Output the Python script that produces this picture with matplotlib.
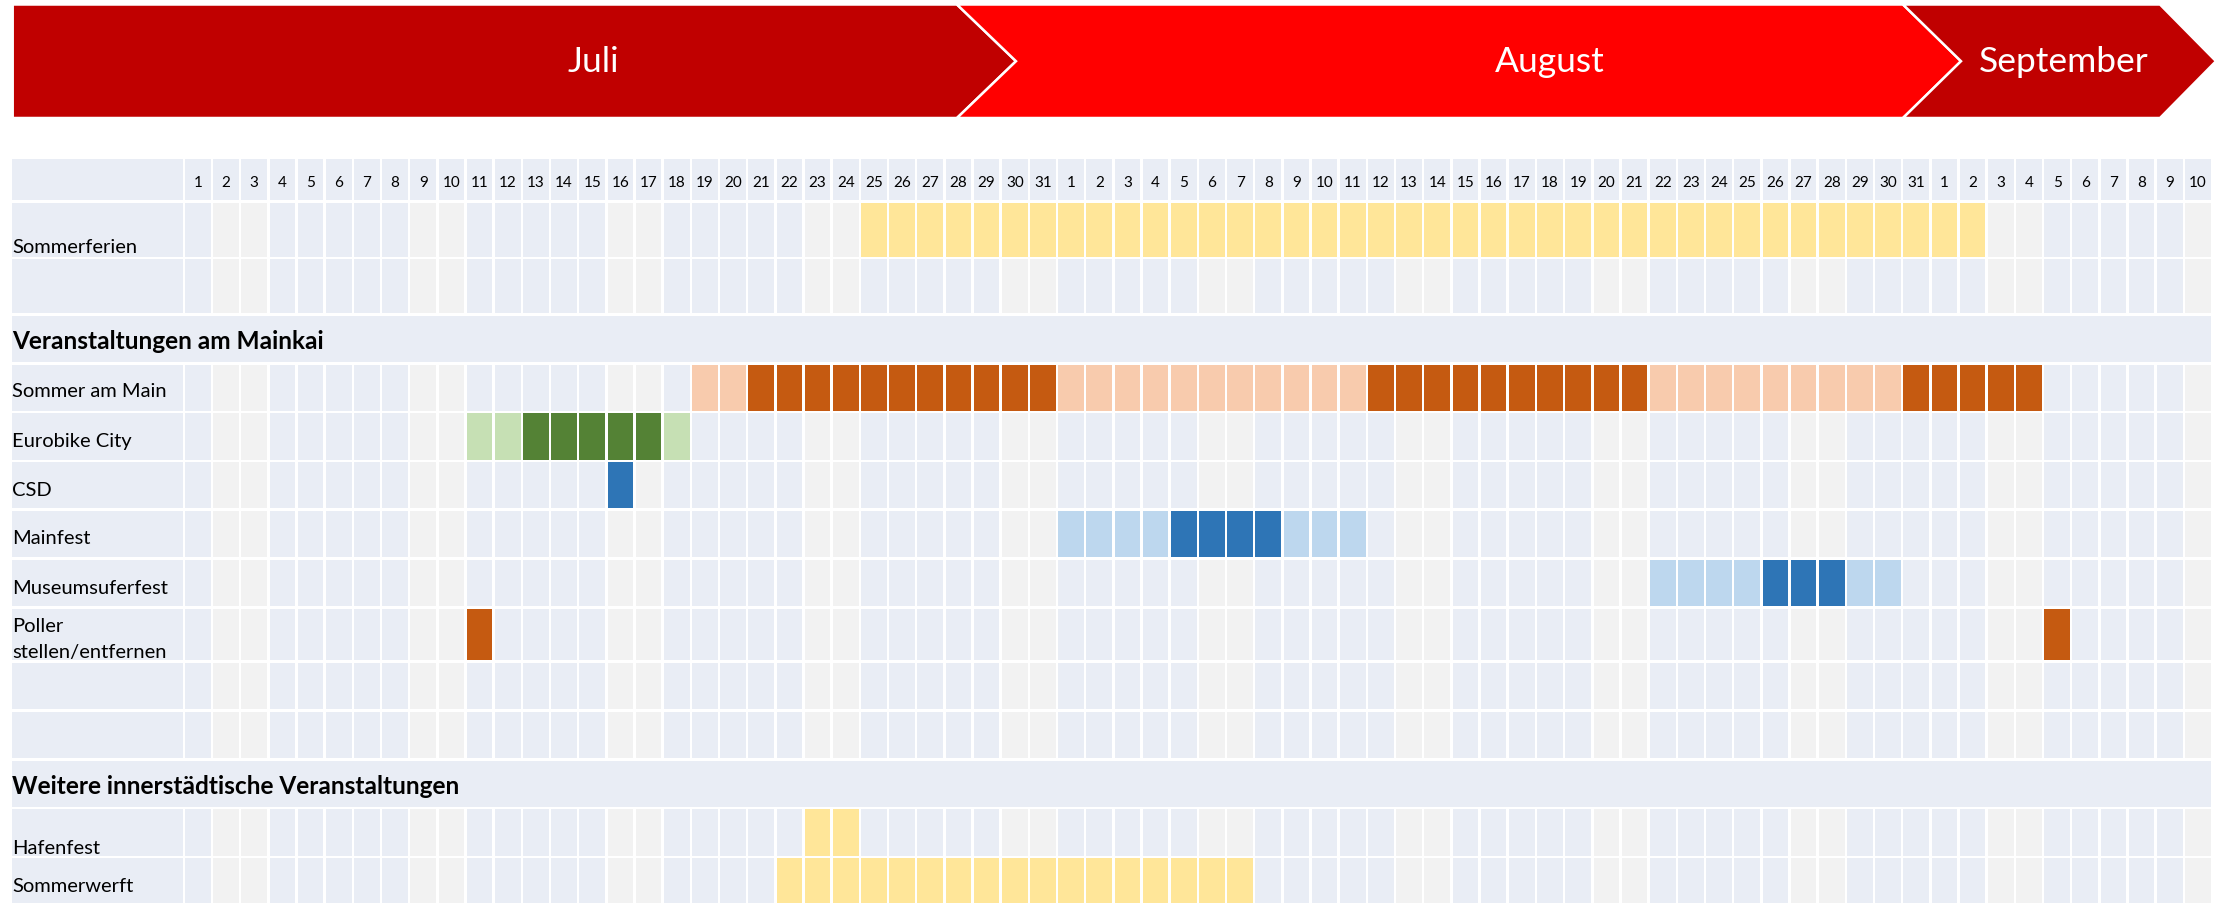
import datetime as dt
import matplotlib.pyplot as plt
from matplotlib.patches import Polygon

plt.rcParams['font.family'] = ['Lato', 'DejaVu Sans']

# ---------------- data ----------------
year = 2022
months = ['Juli', 'August', 'September']
month_nums = [7, 8, 9]
month_days = [31, 31, 10]

sommerferien = [('07-25', '09-02')]
sam_light = [('07-19', '07-20'), ('08-01', '08-11'), ('08-22', '08-30')]
sam_dark = [('07-21', '07-31'), ('08-12', '08-21'), ('08-31', '09-04')]
eurobike_light = [('07-11', '07-12'), ('07-18', '07-18')]
eurobike_dark = [('07-13', '07-17')]
csd_dark = [('07-16', '07-16')]
mainfest_light = [('08-01', '08-04'), ('08-09', '08-11')]
mainfest_dark = [('08-05', '08-08')]
museum_light = [('08-22', '08-25'), ('08-29', '08-30')]
museum_dark = [('08-26', '08-28')]
poller = [('07-11', '07-11'), ('09-05', '09-05')]
hafenfest = [('07-23', '07-24')]
sommerwerft = [('07-22', '08-07')]

# ---------------- colours ----------------
WEEKDAY = '#E9EDF5'
WEEKEND = '#F2F2F2'
YELLOW = '#FFE699'
ORANGE_L = '#F8CBAD'
ORANGE_D = '#C55A11'
GREEN_L = '#C6E0B4'
GREEN_D = '#548235'
BLUE_L = '#BDD7EE'
BLUE_D = '#2E75B6'
RED_D = '#C00000'
RED = '#FF0000'

# label, kind, row height (px), label baselines from row top, events
rows = [
    ('', 'head', 41, [], []),
    ('Sommerferien', 'cal', 54, [49.7], [(sommerferien, YELLOW)]),
    ('', 'cal', 54, [], []),
    ('Veranstaltungen am Mainkai', 'section', 46, [31.6], []),
    ('Sommer am Main', 'cal', 46, [31], [(sam_light, ORANGE_L), (sam_dark, ORANGE_D)]),
    ('Eurobike City', 'cal', 46.4, [32.4], [(eurobike_light, GREEN_L), (eurobike_dark, GREEN_D)]),
    ('CSD', 'cal', 46, [32.4], [(csd_dark, BLUE_D)]),
    ('Mainfest', 'cal', 46, [31.7], [(mainfest_light, BLUE_L), (mainfest_dark, BLUE_D)]),
    ('Museumsuferfest', 'cal', 46.7, [33], [(museum_light, BLUE_L), (museum_dark, BLUE_D)]),
    ('Poller\nstellen/entfernen', 'cal', 51.4, [22.4, 48], [(poller, ORANGE_D)]),
    ('', 'cal', 46.4, [], []),
    ('', 'cal', 46, [], []),
    ('Weitere innerstädtische Veranstaltungen', 'section', 46, [32.7], []),
    ('Hafenfest', 'cal', 46.3, [43.7], [(hafenfest, YELLOW)]),
    ('Sommerwerft', 'cal', 46, [32.7], [(sommerwerft, YELLOW)]),
]

dates = []
for m, n in zip(month_nums, month_days):
    dates += [dt.date(year, m, d) for d in range(1, n + 1)]
col = {d.strftime('%m-%d'): i for i, d in enumerate(dates)}
ndays = len(dates)
weekend = [d.weekday() >= 5 for d in dates]

# ---------------- layout ----------------
W, H = 2224, 904
pitch = 28.17          # px per day column
x_first = 185          # left edge of first day column (px)
top0 = 160
row_gap = 2.65
cell_w = 1 - 2.5 / pitch
lab_x0 = (12.3 - x_first) / pitch
lab_x1 = (183 - x_first) / pitch

fig = plt.figure(figsize=(W / 100, H / 100), dpi=100)

# banner axes in pixel units
bx = fig.add_axes([0, 0, 1, 1])
bx.set_xlim(0, W)
bx.set_ylim(H, 0)
bx.axis('off')

yt, yb, ym = 5.5, 119, 62.2
shapes = [
    ([(12.7, yt), (957, yt), (1016, ym), (957, yb), (12.7, yb)], RED_D),
    ([(957, yt), (1903, yt), (1961, ym), (1903, yb), (957, yb), (1016, ym)], RED),
    ([(1903, yt), (2160, yt), (2216, ym), (2160, yb), (1903, yb), (1961, ym)], RED_D),
]
for pts, c in shapes:
    bx.add_patch(Polygon(pts, closed=True, facecolor=c, edgecolor='white', lw=1.8))
for name, xc in zip(months, [593, 1550, 2064]):
    bx.text(xc, ym, name, color='white', fontsize=25.5,
            ha='center', va='center')

# grid axes: x in day columns, y in px
ax = fig.add_axes([0, 0, 1, 1])
ax.patch.set_alpha(0)
ax.set_xlim(-x_first / pitch, (W - x_first) / pitch)
ax.set_ylim(H, 0)
ax.axis('off')

top = top0
for label, kind, h, bases, events in rows:
    yr = (top, h)
    # label column
    ax.broken_barh([(lab_x0, lab_x1 - lab_x0)], yr, facecolors=WEEKDAY)
    if kind == 'section':
        ax.broken_barh([(lab_x0, ndays - (1 - cell_w) - lab_x0)], yr,
                       facecolors=WEEKDAY)
        ax.text(lab_x0, top + bases[0], label, fontsize=17.6, fontweight='bold',
                va='baseline', ha='left', color='black')
    else:
        if kind == 'head':
            fc = [WEEKDAY] * ndays
        else:
            fc = [WEEKEND if w else WEEKDAY for w in weekend]
        for ranges, c in events:
            for a, b in ranges:
                for i in range(col[a], col[b] + 1):
                    fc[i] = c
        ax.broken_barh([(i, cell_w) for i in range(ndays)], yr, facecolors=fc)
        if kind == 'head':
            for i, d in enumerate(dates):
                ax.text(i + cell_w / 2, top + 27.3, str(d.day), fontsize=11,
                        ha='center', va='baseline', color='black')
        for line, b in zip(label.split('\n'), bases):
            ax.text(lab_x0, top + b, line, fontsize=14.5, va='baseline',
                    ha='left', color='black')
    top += h + row_gap

fig.savefig('out.png', dpi=100, facecolor='white')
